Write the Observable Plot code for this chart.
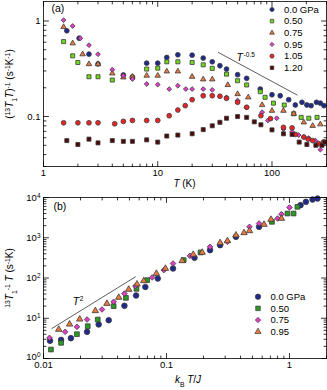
<!DOCTYPE html>
<html><head><meta charset="utf-8">
<script src="https://cdn.jsdelivr.net/npm/d3@7"></script>
<script src="https://cdn.jsdelivr.net/npm/@observablehq/plot@0.6"></script>
<style>
body{margin:0;background:#fff;}
#root{position:relative;width:327px;height:390px;}
#root svg{position:absolute;left:0;display:block;overflow:visible;}
</style></head><body><div id="root"></div>
<script>
const FONT = '"Liberation Sans", Arial, Helvetica, sans-serif';

// ---------- Panel (a): (13T1 T)^-1 vs T ----------
const labelsA = ["0.0 GPa","0.50","0.75","0.95","1.05","1.20"];
const colorsA = ["#1f2a8a","#6fdc1e","#ec7a3c","#e23fc9","#ee2424","#4d0707"];
const symbolsA = ["circle","square","triangle","diamond2","circle","square"];

const a000 = [[1.6,0.79],[2.05,0.66],[2.5,0.45],[3,0.355],[5,0.272],[6,0.26],[8,0.362],[10,0.362],[12,0.415],[15,0.443],[20,0.439],[25,0.409],[30,0.374],[35,0.34],[40,0.314],[50,0.274],[60,0.251],[79,0.194],[100,0.169],[118,0.165],[140,0.15],[160,0.132],[183,0.141],[202,0.132],[220,0.13],[245,0.141],[265,0.138],[285,0.13]];
const a050 = [[1.5,0.609],[1.8,0.432],[2,0.368],[2.5,0.261],[3,0.261],[4,0.241],[8,0.314],[10,0.321],[12,0.374],[15,0.374],[20,0.368],[25,0.348],[30,0.319],[40,0.278],[50,0.237],[60,0.214],[79,0.182],[87,0.159],[103,0.138],[128,0.132],[155,0.107],[180,0.098],[210,0.096],[248,0.098]];
const a075 = [[1.5,0.866],[1.8,0.585],[2.2,0.449],[2.5,0.354],[3,0.354],[4,0.283],[5,0.257],[6,0.261],[8,0.268],[10,0.268],[12,0.297],[15,0.297],[20,0.261],[25,0.245],[30,0.245],[41,0.214],[50,0.172],[62,0.159],[82,0.132],[100,0.115],[126,0.115],[155,0.107],[190,0.087],[227,0.08],[265,0.083]];
const a095 = [[1.5,1.02],[1.8,0.887],[2.1,0.66],[2.5,0.558],[3,0.449],[4,0.309],[5,0.268],[6,0.247],[8,0.219],[10,0.216],[12.6,0.194],[15,0.21],[17.6,0.194],[20,0.194],[25,0.194],[30,0.19],[40,0.159],[50,0.147],[60,0.125],[82,0.111],[92,0.091],[110,0.096],[126,0.074],[150,0.069],[171,0.064],[190,0.061],[210,0.0595],[240,0.056],[265,0.045],[290,0.054]];
const a105 = [[1.5,0.086],[2,0.086],[2.5,0.086],[3,0.086],[4.2,0.084],[5,0.089],[6,0.091],[8,0.091],[10,0.091],[12.6,0.102],[15,0.117],[17.4,0.13],[20,0.15],[25,0.165],[30,0.165],[35,0.163],[40,0.155],[50,0.141],[60,0.125],[80,0.102],[97,0.095],[126,0.077],[150,0.076],[160,0.065],[190,0.061],[207,0.058],[227,0.056],[256,0.052],[282,0.054]];
const a120 = [[1.6,0.056],[2,0.051],[2.5,0.058],[3,0.053],[4,0.056],[5,0.055],[6,0.055],[8,0.057],[10,0.054],[12,0.0625],[15,0.064],[20,0.066],[25,0.073],[30,0.08],[35,0.087],[40,0.096],[50,0.1],[60,0.098],[70,0.088],[80,0.082],[100,0.0725],[126,0.066],[150,0.065],[173,0.054],[202,0.051],[242,0.05],[274,0.05],[290,0.054]];
const seriesA = [a000,a050,a075,a095,a105,a120];

const majorXA = [1,10,100];
const tickLabelsXA = ["1","10","100"];
const majorYA = [0.1,1];
const tickLabelsYA = ["0.1","1"];
const guideA = [[34,0.468],[166,0.168]];       // T^-0.5 guide
const annotA = [[49,0.383]];                    // "T^-0.5" label anchor

// ---------- Panel (b): 13T1^-1 T vs kB T / J ----------
const labelsB = ["0.0 GPa","0.50","0.75","0.95"];
const colorsB = ["#1f2a8a","#2a9a22","#e23fc9","#ec7a3c"];
const symbolsB = ["circle","square","diamond2","triangle"];

const b000 = [[0.0113,2.75],[0.0139,2.9],[0.0167,3.2],[0.0226,4.6],[0.0281,7.0],[0.0339,8.95],[0.0455,20.4],[0.0566,36.8],[0.0673,60],[0.085,97],[0.113,172],[0.169,317],[0.226,492],[0.273,655],[0.367,1054],[0.566,1866],[1.23,6450],[1.36,7800],[1.54,8910],[1.69,9440]];
const b050 = [[0.0115,1.67],[0.0139,2.45],[0.0187,4.02],[0.0229,6.35],[0.0276,9.3],[0.0372,20],[0.0468,32.1],[0.057,53.8],[0.0696,88.4],[0.138,278],[0.189,431],[0.72,2485],[0.963,4000],[1.08,4000],[1.16,5863]];
const b075 = [[0.0112,3.26],[0.015,4.6],[0.0187,6.12],[0.0226,9.3],[0.0299,16.5],[0.0372,25.6],[0.0455,41.2],[0.0559,63],[0.0764,103],[0.0951,157],[0.113,229],[0.155,355],[0.226,594],[0.313,792],[0.473,1866],[0.566,2260],[0.8,3006],[0.86,3853],[1.0,5650]];
const b095 = [[0.0133,5.25],[0.0163,7.1],[0.0197,9.47],[0.0264,15.3],[0.0328,23.2],[0.0409,32.8],[0.0493,51.9],[0.0576,70.3],[0.0653,85],[0.0828,129],[0.098,172],[0.134,267],[0.165,383],[0.195,431],[0.273,748],[0.313,837],[0.367,1160],[0.427,1325],[0.473,1485],[0.621,2134],[0.707,2838],[0.86,3006]];
const seriesB = [b000,b050,b075,b095];

const majorXB = [0.01,0.1,1];
const tickLabelsXB = ["0.01","0.1","1"];
const majorYB = [1,10,100,1000,10000];
const tickExpYB = ["0","1","2","3","4"];
const guideB = [[0.0117,5.56],[0.0559,107]];   // T^2 guide
const annotB = [[0.0173,21.1]];                 // "T^2" label anchor

// ---------- helpers ----------
function minorTicks([lo, hi]) {
  const out = [];
  for (let k = Math.floor(Math.log10(lo)); k <= Math.ceil(Math.log10(hi)); k++)
    for (let m = 2; m <= 9; m++) { const v = m * Math.pow(10, k); if (v >= lo * 0.999 && v <= hi * 1.001) out.push(+v.toPrecision(6)); }
  return out;
}
const tickShape = {draw(ctx, l) { ctx.moveTo(0, 0); ctx.lineTo(0, -l); }};
function frameTicks(xMaj, xMin, yMaj, yMin) {
  const c = {shape: tickShape, anchor: "start", stroke: "black", strokeWidth: 0.8};
  const sides = [];
  for (const [fa, rot] of [["bottom", 0], ["top", 180]]) {
    sides.push(Plot.vector(xMaj, {x: d => d, frameAnchor: fa, rotate: rot, length: 5, ...c}));
    sides.push(Plot.vector(xMin, {x: d => d, frameAnchor: fa, rotate: rot, length: 2.5, ...c}));
  }
  for (const [fa, rot] of [["left", 90], ["right", 270]]) {
    sides.push(Plot.vector(yMaj, {y: d => d, frameAnchor: fa, rotate: rot, length: 5, ...c}));
    sides.push(Plot.vector(yMin, {y: d => d, frameAnchor: fa, rotate: rot, length: 2.5, ...c}));
  }
  return sides;
}
const symScale = {circle: 1, square: 0.95, triangle: 0.85, diamond2: 0.9};
function dotsFor(series, colors, symbols, r) {
  return series.map((pts, i) => Plot.dot(pts, {x: d => d[0], y: d => d[1], symbol: symbols[i], fill: colors[i], stroke: "#3a3a3a", strokeWidth: 0.8, r: r * symScale[symbols[i]]}));
}
function rich(sel, parts) {
  for (const p of parts) {
    const t = sel.append("tspan").text(p.t);
    if (p.i) t.attr("font-style", "italic");
    if (p.sup) t.attr("baseline-shift", "super").attr("font-size", "68%");
    if (p.sub) t.attr("baseline-shift", "sub").attr("font-size", "68%");
  }
}
const symMap = {circle: d3.symbolCircle, square: d3.symbolSquare, triangle: d3.symbolTriangle, diamond2: d3.symbolDiamond2};
function legend(svg, labels, colors, symbols, x0, y0, dy, r, tx) {
  const g = d3.select(svg).append("g").attr("font-family", FONT).attr("font-size", "9.5px").attr("text-anchor", "start");
  labels.forEach((lab, i) => {
    const y = y0 + i * dy;
    const rr = r * symScale[symbols[i]];
    g.append("path").attr("transform", `translate(${x0},${y})`)
      .attr("d", d3.symbol(symMap[symbols[i]], Math.PI * rr * rr)())
      .attr("fill", colors[i]).attr("stroke", "#3a3a3a").attr("stroke-width", 0.7);
    g.append("text").attr("x", tx).attr("y", y).attr("dy", "0.35em").attr("fill", "black").attr("text-anchor", "start").text(lab);
  });
}
const style = {fontFamily: FONT, fontSize: "9.5px", color: "black", background: "transparent", overflow: "visible"};

// ---------- build panel (a) ----------
const domXA = [1, 300], domYA = [0.03, 1.6];
const plotA = Plot.plot({
  width: 327, height: 190, marginLeft: 43, marginRight: 1, marginTop: 1, marginBottom: 24,
  style,
  x: {type: "log", domain: domXA},
  y: {type: "log", domain: domYA},
  marks: [
    ...frameTicks(majorXA, minorTicks(domXA), majorYA, minorTicks(domYA)),
    Plot.axisX({ticks: majorXA, tickSize: 0, tickPadding: 3, tickFormat: d => tickLabelsXA[majorXA.indexOf(d)], label: null}),
    Plot.axisY({ticks: majorYA, tickSize: 0, tickPadding: 3, tickFormat: d => tickLabelsYA[majorYA.indexOf(d)], label: null}),
    Plot.line(guideA, {x: d => d[0], y: d => d[1], stroke: "#333", strokeWidth: 0.8}),
    Plot.text(annotA, {x: d => d[0], y: d => d[1], text: () => "T", fontStyle: "italic", fontSize: 10.5, textAnchor: "start", lineAnchor: "bottom"}),
    Plot.text(annotA, {x: d => d[0], y: d => d[1], text: () => "-0.5", fontSize: 6.5, textAnchor: "start", lineAnchor: "bottom", dx: 7, dy: -4}),
    Plot.text(["(a)"], {frameAnchor: "top-left", text: d => d, fontSize: 10.5, dx: 8, dy: 3, lineAnchor: "top"}),
    ...dotsFor(seriesA, colorsA, symbolsA, 2.4),
    Plot.frame({stroke: "black", strokeWidth: 0.8})
  ]
});
plotA.style.top = "0px";

// ---------- build panel (b) ----------
const domXB = [0.01, 2], domYB = [1, 10000];
const plotB = Plot.plot({
  width: 327, height: 200, marginLeft: 43, marginRight: 1, marginTop: 7, marginBottom: 32,
  style,
  x: {type: "log", domain: domXB},
  y: {type: "log", domain: domYB},
  marks: [
    ...frameTicks(majorXB, minorTicks(domXB), majorYB, minorTicks(domYB)),
    Plot.axisX({ticks: majorXB, tickSize: 0, tickPadding: 3, tickFormat: d => tickLabelsXB[majorXB.indexOf(d)], label: null}),
    Plot.axisY({ticks: majorYB, tickSize: 0, tickPadding: 3, tickFormat: d => "10^" + tickExpYB[majorYB.indexOf(d)], label: null}),
    Plot.line(guideB, {x: d => d[0], y: d => d[1], stroke: "#333", strokeWidth: 0.8}),
    Plot.text(annotB, {x: d => d[0], y: d => d[1], text: () => "T", fontStyle: "italic", fontSize: 10.5, textAnchor: "start", lineAnchor: "bottom"}),
    Plot.text(annotB, {x: d => d[0], y: d => d[1], text: () => "2", fontSize: 6.5, textAnchor: "start", lineAnchor: "bottom", dx: 7, dy: -4}),
    Plot.text(["(b)"], {frameAnchor: "top-left", text: d => d, fontSize: 10.5, dx: 10, dy: 5, lineAnchor: "top"}),
    ...dotsFor(seriesB, colorsB, symbolsB, 2.8),
    Plot.frame({stroke: "black", strokeWidth: 0.8})
  ]
});
plotB.style.top = "190px";

const root = document.getElementById("root");
root.appendChild(plotA);
root.appendChild(plotB);

// superscript tick labels on panel (b) y axis
d3.select(plotB).selectAll("text").each(function () {
  const s = this.textContent;
  if (s.startsWith("10^")) {
    const sel = d3.select(this); sel.text("");
    rich(sel, [{t: "10"}, {t: s.slice(3), sup: true}]);
    if (s === "10^0") sel.attr("dy", "-0.15em");
  }
});

// axis titles
const ta = d3.select(plotA).append("text").attr("font-family", FONT).attr("font-size", "10px").attr("fill", "black")
  .attr("text-anchor", "middle").attr("x", 184.5).attr("y", 186.5);
rich(ta, [{t: "T", i: true}, {t: " (K)"}]);
const tya = d3.select(plotA).append("text").attr("font-family", FONT).attr("font-size", "10px").attr("fill", "black")
  .attr("text-anchor", "middle").attr("transform", "translate(12.5,84) rotate(-90)");
rich(tya, [{t: "("}, {t: "13", sup: true}, {t: "T", i: true}, {t: "1", sub: true}, {t: "T", i: true}, {t: ")"}, {t: "-1", sup: true}, {t: " (s"}, {t: "-1", sup: true}, {t: "K"}, {t: "-1", sup: true}, {t: ")"}]);

const tb = d3.select(plotB).append("text").attr("font-family", FONT).attr("font-size", "10px").attr("fill", "black")
  .attr("text-anchor", "middle").attr("x", 188).attr("y", 193);
rich(tb, [{t: "k", i: true}, {t: "B", sub: true}, {t: " "}, {t: "T", i: true}, {t: "/"}, {t: "J", i: true}]);
const tyb = d3.select(plotB).append("text").attr("font-family", FONT).attr("font-size", "10px").attr("fill", "black")
  .attr("text-anchor", "middle").attr("transform", "translate(12.5,88) rotate(-90)");
rich(tyb, [{t: "13", sup: true}, {t: "T", i: true}, {t: "1", sub: true}, {t: "-1", sup: true}, {t: " "}, {t: "T", i: true}, {t: " (s"}, {t: "-1", sup: true}, {t: "K)"}]);

// legends
legend(plotA, labelsA, colorsA, symbolsA, 272, 9.5, 11.65, 2.1, 284);
legend(plotB, labelsB, colorsB, symbolsB, 258, 106.7, 11.67, 2.7, 270.5);
</script></body></html>
